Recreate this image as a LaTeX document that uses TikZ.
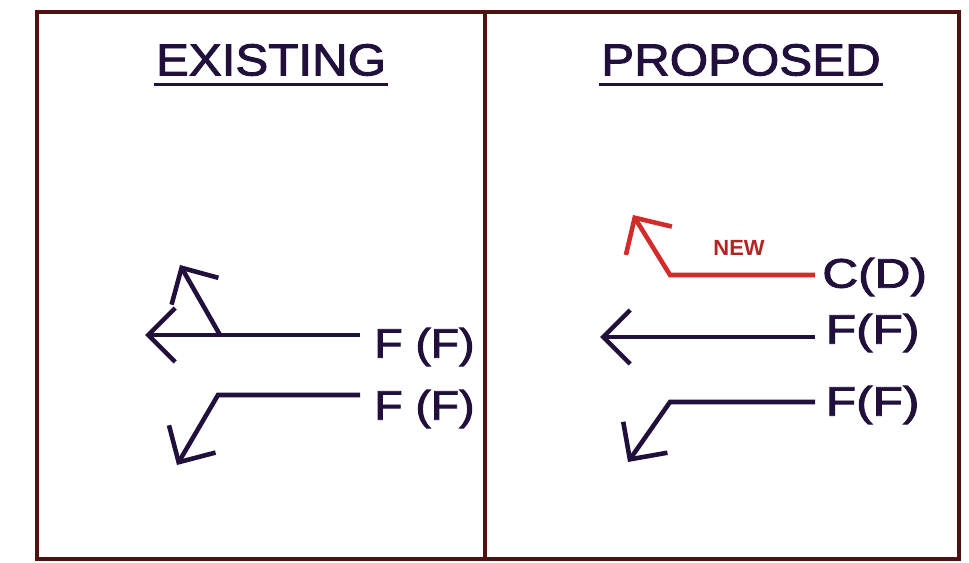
\documentclass[tikz,border=0pt]{standalone}
\usepackage{fontspec}
\setmainfont{Liberation Sans}
\newfontfamily\heavysans{Liberation Sans}[FakeBold=2]
\usepackage{graphicx}
\usepackage{tikz}
\usetikzlibrary{arrows.meta, positioning, calc}
\usepackage{xcolor}
\definecolor{FrameBrown}{HTML}{4E1212}
\definecolor{InkPurple}{HTML}{22103C}
\definecolor{NewRed}{HTML}{D32A2A}
\definecolor{TagRed}{HTML}{B52424}
\newcommand{\widetxt}[2]{\scalebox{#1}[1]{#2}}
\tikzset{
  % Panel frame
  panel_frame/.style={
    draw=FrameBrown, line width=1.8pt
  },
  % Panel heading
  heading/.style={
    font=\heavysans\fontsize{25.5}{28}\selectfont, text=InkPurple,
    inner xsep=1pt, inner ysep=5pt
  },
  % Heading underline
  uline/.style={
    draw=InkPurple, line width=1.7pt
  },
  % Movement label
  move_lbl/.style={
    font=\heavysans\fontsize{23.5}{26}\selectfont, text=InkPurple,
    anchor=west, inner ysep=0pt, inner xsep=4pt
  },
  % Arrow style
  arrow/.style={
    -{Straight Barb[length=0.54cm, width=1.08cm]},
    line width=2.6pt, draw=InkPurple
  },
  % New movement arrow
  new_arrow/.style={
    arrow, draw=NewRed
  },
  % New tag
  new_tag/.style={
    font=\bfseries\fontsize{12.5}{14}\selectfont,
    text=TagRed, inner sep=0pt
  }
}

\begin{document}
\begin{tikzpicture}[x=0.02cm, y=-0.02cm]

\path[fill=white, use as bounding box] (0,0) rectangle (969,563);

% ── panels ─────────────────────────────────────────────
\draw[panel_frame] (37,12) rectangle (959,559);
\draw[panel_frame] (485,12) -- (485,559);

\node[heading] (ex_title) at (271,60) {\widetxt{1.1}{EXISTING}};
\draw[uline] (ex_title.south west) -- (ex_title.south east);

\node[heading] (pr_title) at (741,60) {\widetxt{1.1}{PROPOSED}};
\draw[uline] (pr_title.south west) -- (pr_title.south east);

% ── existing movements ─────────────────────────────────
\coordinate (ex_tip1) at (145,335);
\coordinate (ex_j1)   at (220,335);
\coordinate (ex_tip2) at (180,265);
\node[move_lbl, inner xsep=8pt] (ex_ff1) at (360,347)
  {\widetxt{1.12}{F (F)}};
\draw[arrow] (ex_ff1.west |- ex_j1) -- (ex_tip1);
\draw[arrow] (ex_j1) -- (ex_tip2);

\coordinate (ex_b2)   at (218,395);
\coordinate (ex_tip3) at (177,465);
\node[move_lbl, inner xsep=8pt] (ex_ff2) at (360,409)
  {\widetxt{1.12}{F (F)}};
\draw[arrow] (ex_ff2.west |- ex_b2) -- (ex_b2) -- (ex_tip3);

% ── proposed movements ─────────────────────────────────
\coordinate (pr_b1)   at (670,275);
\coordinate (pr_tip1) at (633,215);
\node[move_lbl] (pr_cd) at (815,277) {\widetxt{1.2}{C(D)}};
\draw[new_arrow] (pr_cd.west |- pr_b1) -- (pr_b1) -- (pr_tip1);
\node[new_tag] (pr_new) at (739,248) {NEW};

\coordinate (pr_tip2) at (600,337);
\node[move_lbl, inner xsep=6pt] (pr_ff1) at (815,333) {\widetxt{1.2}{F(F)}};
\draw[arrow] (pr_ff1.west |- pr_tip2) -- (pr_tip2);

\coordinate (pr_b3)   at (670,402);
\coordinate (pr_tip3) at (628,462);
\node[move_lbl, inner xsep=6pt] (pr_ff2) at (815,405) {\widetxt{1.2}{F(F)}};
\draw[arrow] (pr_ff2.west |- pr_b3) -- (pr_b3) -- (pr_tip3);

\end{tikzpicture}
\end{document}
